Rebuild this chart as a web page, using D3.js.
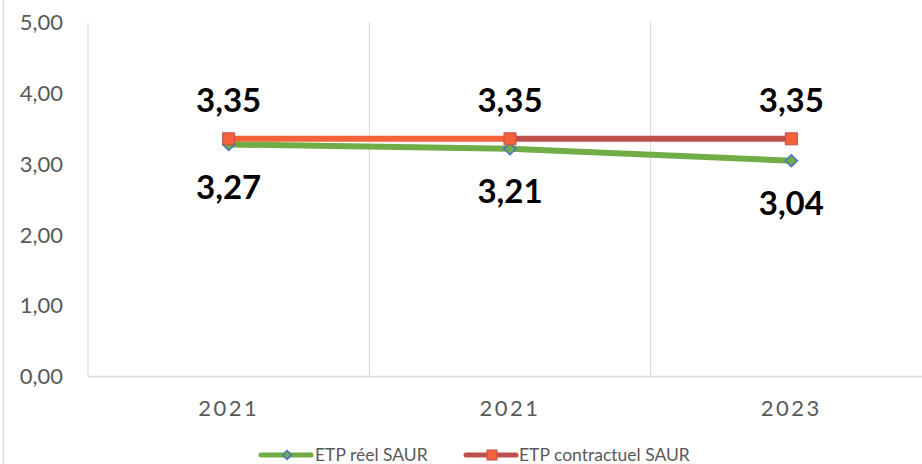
<!DOCTYPE html>
<html><head><meta charset="utf-8">
<script src="https://cdn.jsdelivr.net/npm/d3@7"></script>
<style>body{margin:0;background:#fff}svg{display:block;font-family:Lato,"Open Sans",sans-serif}</style>
</head><body><svg id="c" width="922" height="464"></svg>
<script>
const categories = ["2021", "2021", "2023"];
const reel = [3.27, 3.21, 3.04];
const contractuel = [3.35, 3.35, 3.35];
const yTicks = [0, 1, 2, 3, 4, 5];
const seriesNames = ["ETP réel SAUR", "ETP contractuel SAUR"];

const svg = d3.select("#c");
const fmt = v => d3.format(".2f")(v).replace(".", ",");
const pL = 88, pR = 932, pT = 22, pB = 376;
const x = d3.scaleBand().domain(d3.range(categories.length)).range([pL, pR]);
const y = d3.scaleLinear().domain([0, 5]).range([pB, pT]);
const cx = i => x(i) + x.bandwidth() / 2;

// chart-area left border
svg.append("line").attr("x1", 3.5).attr("x2", 3.5).attr("y1", 0).attr("y2", 464).attr("stroke", "#D9D9D9").attr("stroke-width", 1.5);

// vertical gridlines at band boundaries
const bounds = d3.range(categories.length + 1).map(i => pL + i * x.bandwidth());
svg.append("g").selectAll("line").data(bounds).join("line")
  .attr("x1", d => d).attr("x2", d => d).attr("y1", pT).attr("y2", pB)
  .attr("stroke", "#D9D9D9").attr("stroke-width", 1);
// baseline
svg.append("line").attr("x1", pL).attr("x2", 922).attr("y1", pB + 0.5).attr("y2", pB + 0.5)
  .attr("stroke", "#D9D9D9").attr("stroke-width", 1.5);

// y axis labels
const yAxis = d3.axisLeft(y).tickValues(yTicks).tickFormat(fmt).tickSize(0).tickPadding(0);
const ya = svg.append("g").attr("transform", `translate(63,0)`).call(yAxis);
ya.select(".domain").remove();
ya.selectAll("text").attr("fill", "#595959").attr("font-size", 22).attr("font-family", "Lato, sans-serif").attr("dy", "0.35em");

// x axis labels
const xAxis = d3.axisBottom(x).tickFormat(i => categories[i]).tickSize(0).tickPadding(0);
const xa = svg.append("g").attr("transform", `translate(0,${pB + 32})`).call(xAxis);
xa.select(".domain").remove();
xa.selectAll("text").attr("fill", "#595959").attr("font-size", 22).attr("letter-spacing", "2.5px")
  .attr("font-family", "Lato, sans-serif").attr("dy", "0.35em");

// red series: segments with different colours
const redSeg = ["#F4623A", "#C0504D"];
for (let i = 0; i < contractuel.length - 1; i++) {
  svg.append("line").attr("x1", cx(i)).attr("x2", cx(i + 1))
    .attr("y1", y(contractuel[i])).attr("y2", y(contractuel[i + 1]))
    .attr("stroke", redSeg[i]).attr("stroke-width", 6);
}
// green series
const line = d3.line().x((d, i) => cx(i)).y(d => y(d));
svg.append("path").datum(reel).attr("d", line).attr("fill", "none")
  .attr("stroke", "#70AD47").attr("stroke-width", 6).attr("stroke-linecap", "round");

svg.append("g").selectAll("path").data(reel).join("path")
  .attr("d", d3.symbol().type(d3.symbolSquare).size(72)())
  .attr("transform", (d, i) => `translate(${cx(i)},${y(d)}) rotate(45)`)
  .attr("fill", "#70AD47").attr("stroke", "#4472C4").attr("stroke-width", 1.5);

svg.append("g").selectAll("rect").data(contractuel).join("rect")
  .attr("x", (d, i) => cx(i) - 6).attr("y", d => y(d) - 6).attr("width", 12).attr("height", 12)
  .attr("fill", "#F4623A").attr("stroke", "#C0504D").attr("stroke-width", 1);

// data labels
svg.append("g").selectAll("text").data(contractuel).join("text")
  .attr("x", (d, i) => cx(i)).attr("y", d => y(d) - 38).attr("dy", "0.35em")
  .attr("text-anchor", "middle").attr("font-size", 33).attr("font-weight", "bold").attr("fill", "#000")
  .text(fmt);
svg.append("g").selectAll("text").data(reel).join("text")
  .attr("x", (d, i) => cx(i)).attr("y", d => y(d) + 43).attr("dy", "0.35em")
  .attr("text-anchor", "middle").attr("font-size", 33).attr("font-weight", "bold").attr("fill", "#000")
  .text(fmt);

// legend
const lg = svg.append("g").attr("font-size", 17.5).attr("fill", "#595959");
const l1 = 261, l2 = 466, ly = 455;
lg.append("line").attr("x1", l1).attr("x2", l1 + 50).attr("y1", ly).attr("y2", ly).attr("stroke", "#70AD47").attr("stroke-width", 5).attr("stroke-linecap", "round");
lg.append("path").attr("d", d3.symbol().type(d3.symbolSquare).size(40)()).attr("transform", `translate(${l1 + 26},${ly}) rotate(45)`)
  .attr("fill", "#70AD47").attr("stroke", "#4472C4").attr("stroke-width", 1.5);
lg.append("text").attr("x", l1 + 54).attr("y", ly).attr("dy", "0.35em").text(seriesNames[0]);
lg.append("line").attr("x1", l2).attr("x2", l2 + 50).attr("y1", ly).attr("y2", ly).attr("stroke", "#C0504D").attr("stroke-width", 5).attr("stroke-linecap", "round");
lg.append("rect").attr("x", l2 + 21).attr("y", ly - 5).attr("width", 10).attr("height", 10)
  .attr("fill", "#F4623A").attr("stroke", "#C0504D").attr("stroke-width", 1);
lg.append("text").attr("x", l2 + 53).attr("y", ly).attr("dy", "0.35em").text(seriesNames[1]);
</script></body></html>
